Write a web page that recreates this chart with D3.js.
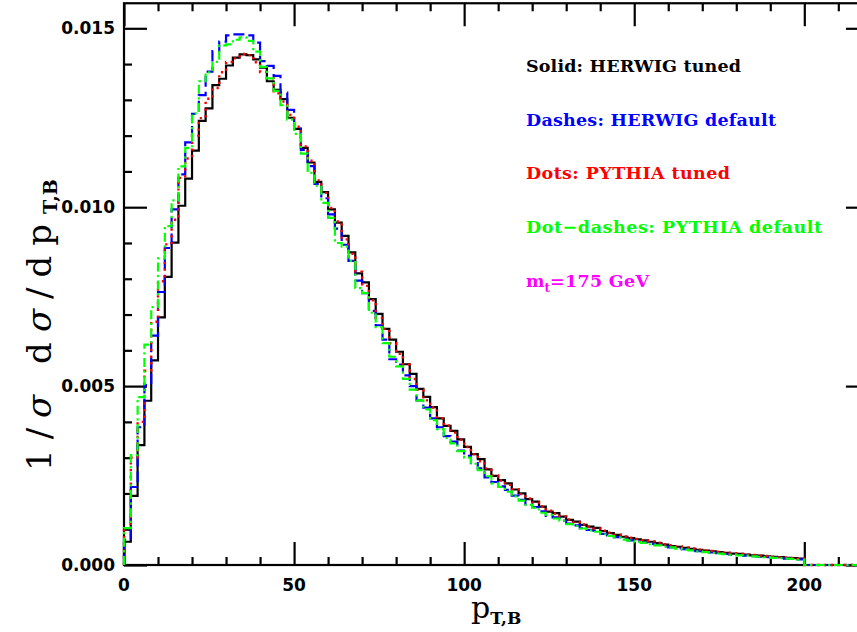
<!DOCTYPE html>
<html>
<head>
<meta charset="utf-8">
<script src="https://cdn.jsdelivr.net/npm/d3@7"></script>
<style>
  html, body { margin: 0; padding: 0; background: #fff; }
  svg { display: block; }
</style>
</head>
<body>
<svg id="chart" width="857" height="632"></svg>
<script>
// ---- data: bins of width 2 GeV from 0 to 200 ----
const binWidth = 2;
const herwigTuned = [
  0.00065,0.00193,0.00335,0.00459,0.00572,0.00692,0.00805,0.00901,0.01004,0.01080,
  0.01158,0.01241,0.01276,0.01341,0.01359,0.01396,0.01418,0.01427,0.01425,0.01413,
  0.01390,0.01352,0.01328,0.01302,0.01250,0.01219,0.01166,0.01125,0.01071,0.01042,
  0.00994,0.00957,0.00920,0.00874,0.00815,0.00790,0.00743,0.00702,0.00660,0.00630,
  0.00596,0.00561,0.00534,0.00492,0.00470,0.00441,0.00410,0.00389,0.00375,0.00351,
  0.00330,0.00310,0.00296,0.00267,0.00249,0.00237,0.00228,0.00211,0.00200,0.00184,
  0.00177,0.00163,0.00149,0.00145,0.00135,0.00126,0.00121,0.00112,0.00107,0.00104,
  0.00095,0.00089,0.00084,0.00079,0.00075,0.00072,0.00069,0.00065,0.00061,0.00057,
  0.00053,0.00051,0.00048,0.00045,0.00042,0.00040,0.00038,0.00036,0.00034,0.00032,
  0.00031,0.00029,0.00027,0.00026,0.00024,0.00023,0.00022,0.00020,0.00019,0.00018
];
const herwigDefault = [
  0.00070,0.00218,0.00385,0.00503,0.00641,0.00763,0.00886,0.00994,0.01092,0.01181,
  0.01261,0.01313,0.01379,0.01436,0.01463,0.01480,0.01483,0.01483,0.01480,0.01460,
  0.01408,0.01395,0.01367,0.01320,0.01272,0.01220,0.01160,0.01115,0.01065,0.01025,
  0.00980,0.00940,0.00895,0.00850,0.00795,0.00760,0.00710,0.00670,0.00630,0.00575,
  0.00560,0.00530,0.00500,0.00460,0.00440,0.00410,0.00385,0.00360,0.00345,0.00320,
  0.00305,0.00285,0.00270,0.00245,0.00232,0.00220,0.00210,0.00194,0.00182,0.00170,
  0.00162,0.00150,0.00137,0.00133,0.00124,0.00116,0.00111,0.00103,0.00098,0.00096,
  0.00087,0.00083,0.00078,0.00072,0.00069,0.00066,0.00063,0.00059,0.00056,0.00052,
  0.00049,0.00047,0.00044,0.00041,0.00039,0.00037,0.00035,0.00033,0.00031,0.00029,
  0.00028,0.00026,0.00025,0.00023,0.00022,0.00021,0.00020,0.00018,0.00017,0.00016
];
const pythiaTuned = [
  0.00103,0.00300,0.00400,0.00543,0.00680,0.00793,0.00896,0.00965,0.01082,0.01136,
  0.01200,0.01249,0.01303,0.01333,0.01377,0.01406,0.01416,0.01428,0.01425,0.01405,
  0.01378,0.01360,0.01318,0.01295,0.01258,0.01225,0.01170,0.01130,0.01075,0.01040,
  0.00998,0.00960,0.00910,0.00870,0.00820,0.00780,0.00740,0.00690,0.00660,0.00620,
  0.00590,0.00560,0.00520,0.00490,0.00460,0.00440,0.00410,0.00390,0.00370,0.00350,
  0.00330,0.00310,0.00290,0.00270,0.00250,0.00236,0.00224,0.00212,0.00198,0.00186,
  0.00175,0.00164,0.00152,0.00144,0.00136,0.00127,0.00120,0.00113,0.00107,0.00102,
  0.00096,0.00090,0.00085,0.00080,0.00076,0.00073,0.00069,0.00066,0.00062,0.00058,
  0.00055,0.00052,0.00049,0.00046,0.00043,0.00041,0.00039,0.00037,0.00035,0.00033,
  0.00031,0.00029,0.00028,0.00026,0.00025,0.00023,0.00022,0.00021,0.00020,0.00018
];
const pythiaDefault = [
  0.00103,0.00307,0.00469,0.00616,0.00721,0.00857,0.00947,0.01019,0.01114,0.01166,
  0.01262,0.01352,0.01377,0.01406,0.01452,0.01455,0.01468,0.01475,0.01465,0.01435,
  0.01392,0.01360,0.01325,0.01285,0.01245,0.01205,0.01150,0.01096,0.01060,0.01012,
  0.00970,0.00900,0.00890,0.00850,0.00774,0.00760,0.00705,0.00665,0.00620,0.00582,
  0.00555,0.00520,0.00490,0.00460,0.00435,0.00405,0.00380,0.00355,0.00340,0.00318,
  0.00300,0.00283,0.00265,0.00248,0.00228,0.00218,0.00205,0.00192,0.00180,0.00168,
  0.00160,0.00146,0.00140,0.00130,0.00124,0.00114,0.00109,0.00102,0.00097,0.00093,
  0.00086,0.00081,0.00077,0.00071,0.00068,0.00064,0.00062,0.00058,0.00055,0.00051,
  0.00049,0.00046,0.00043,0.00041,0.00038,0.00036,0.00034,0.00032,0.00030,0.00029,
  0.00027,0.00026,0.00024,0.00023,0.00022,0.00020,0.00019,0.00018,0.00017,0.00015
];
const xTickLabels = [0, 50, 100, 150, 200];
const yTickLabels = ["0.000", "0.005", "0.010", "0.015"];
const legendLines = ["Solid: HERWIG tuned", "Dashes: HERWIG default", "Dots: PYTHIA tuned", "Dot\u2212dashes: PYTHIA default"];

// ---- layout ----
const svg = d3.select("#chart");
const xMax = 219, yMax = 0.0157;
const x = d3.scaleLinear().domain([0, xMax]).range([124, 124 + 3.4015 * xMax]);
const y = d3.scaleLinear().domain([0, yMax]).range([565, 565 - 35780 * yMax]);
const X0 = x(0), X1 = x(xMax), Y0 = y(0), Y1 = y(yMax);

const series = [
  { data: herwigTuned,   color: "#000000", dash: null,            width: 2.2 },
  { data: herwigDefault, color: "#0000ff", dash: "11,5",          width: 2.2 },
  { data: pythiaTuned,   color: "#ff0000", dash: "2.2,4.5",       width: 2.4 },
  { data: pythiaDefault, color: "#00ff00", dash: "9,3.5,2.2,3.5", width: 2.2 }
];

// ---- axes (inward ticks on all four sides) ----
const axStroke = 2.2;
const xMinor = d3.range(0, xMax + 0.01, 10);
const yMinor = d3.range(0, 16).map(i => i * 0.001);
const majX = v => v % 50 === 0, majY = v => Math.abs(v / 0.005 - Math.round(v / 0.005)) < 1e-6;

const axBottom = svg.append("g").attr("transform", `translate(0,${Y0})`)
  .call(d3.axisBottom(x).tickValues(xMinor).tickSize(0).tickFormat(""));
const axTop = svg.append("g").attr("transform", `translate(0,${Y1})`)
  .call(d3.axisTop(x).tickValues(xMinor).tickSize(0).tickFormat(""));
const axLeft = svg.append("g").attr("transform", `translate(${X0},0)`)
  .call(d3.axisLeft(y).tickValues(yMinor).tickSize(0).tickFormat(""));
const axRight = svg.append("g").attr("transform", `translate(${X1},0)`)
  .call(d3.axisRight(y).tickValues(yMinor).tickSize(0).tickFormat(""));
[axBottom, axTop, axLeft, axRight].forEach(a => a.select(".domain").remove());

axBottom.selectAll(".tick line").attr("y2", d => majX(d) ? -23 : -8);
axTop.selectAll(".tick line").attr("y2", d => majX(d) ? 23 : 8);
axLeft.selectAll(".tick line").attr("x2", d => majY(d) ? 23 : 8);
axRight.selectAll(".tick line").attr("x2", d => majY(d) ? -23 : -8);
svg.selectAll(".tick line").attr("stroke", "#000").attr("stroke-width", axStroke);

svg.append("rect").attr("x", X0).attr("y", Y1).attr("width", X1 - X0).attr("height", Y0 - Y1)
  .attr("fill", "none").attr("stroke", "#000").attr("stroke-width", axStroke);

// ---- histograms (drawn over the frame, like the original) ----
const line = d3.line().x(d => x(d[0])).y(d => y(d[1])).curve(d3.curveStepAfter);
svg.append("clipPath").attr("id", "clip").append("rect")
  .attr("x", X0 - 2).attr("y", Y1).attr("width", X1 - X0 + 4).attr("height", Y0 - Y1 + 2);

const g = svg.append("g").attr("clip-path", "url(#clip)");
series.forEach(s => {
  const pts = [[0, 0]];
  s.data.forEach((v, i) => pts.push([i * binWidth, v]));
  pts.push([s.data.length * binWidth, 0]);
  pts.push([xMax, 0]);
  g.append("path").attr("d", line(pts)).attr("fill", "none")
    .attr("stroke", s.color).attr("stroke-width", s.width)
    .attr("stroke-dasharray", s.dash).attr("stroke-linejoin", "miter");
});

// tick labels
const tickFont = "'DejaVu Sans', sans-serif";
svg.append("g").selectAll("text").data(xTickLabels).join("text")
  .attr("x", d => x(d)).attr("y", 591).attr("text-anchor", "middle")
  .attr("font-family", tickFont).attr("font-weight", "bold").attr("font-size", 17)
  .text(d => d);
svg.append("g").selectAll("text").data(yTickLabels).join("text")
  .attr("x", 115).attr("y", d => y(+d) + 6).attr("text-anchor", "end")
  .attr("font-family", tickFont).attr("font-weight", "bold").attr("font-size", 17)
  .text(d => d);

// axis titles
const titleFont = "'DejaVu Serif', serif";
const xt = svg.append("text").attr("x", 471).attr("y", 618)
  .attr("font-family", titleFont).attr("font-size", 30);
xt.append("tspan").text("p");
xt.append("tspan").attr("dy", 6).attr("font-size", 17).attr("font-weight", "bold").text("T,B");

const yt = svg.append("text").attr("transform", "translate(51,471) rotate(-90)")
  .attr("font-family", titleFont).attr("font-size", 34).attr("letter-spacing", 10);
yt.append("tspan").text("1/");
yt.append("tspan").attr("font-style", "italic").text("\u03c3");
yt.append("tspan").text(" d");
yt.append("tspan").attr("font-style", "italic").text("\u03c3");
yt.append("tspan").text("/dp");
yt.append("tspan").attr("dy", 6).attr("font-size", 19).attr("font-weight", "bold")
  .attr("letter-spacing", 0).text("T,B");

// legend
const legFont = "'DejaVu Serif', serif";
const legColors = ["#000000", "#0000ff", "#ff0000", "#00ff00"];
const legWidths = [215, 250, 204, 296];
legendLines.forEach((t, i) => {
  svg.append("text").attr("x", 526).attr("y", 72 + i * 53.6)
    .attr("font-family", legFont).attr("font-weight", "bold").attr("font-size", 17.5)
    .attr("fill", legColors[i]).attr("textLength", legWidths[i]).attr("lengthAdjust", "spacing")
    .text(t);
});
const mt = svg.append("text").attr("x", 526).attr("y", 286.5)
  .attr("font-family", legFont).attr("font-weight", "bold").attr("font-size", 17.5).attr("fill", "#ff00ff");
mt.append("tspan").text("m");
mt.append("tspan").attr("dy", 5).attr("font-size", 12).text("t");
mt.append("tspan").attr("dy", -5).attr("textLength", 99).attr("lengthAdjust", "spacing").text("=175 GeV");
</script>
</body>
</html>
